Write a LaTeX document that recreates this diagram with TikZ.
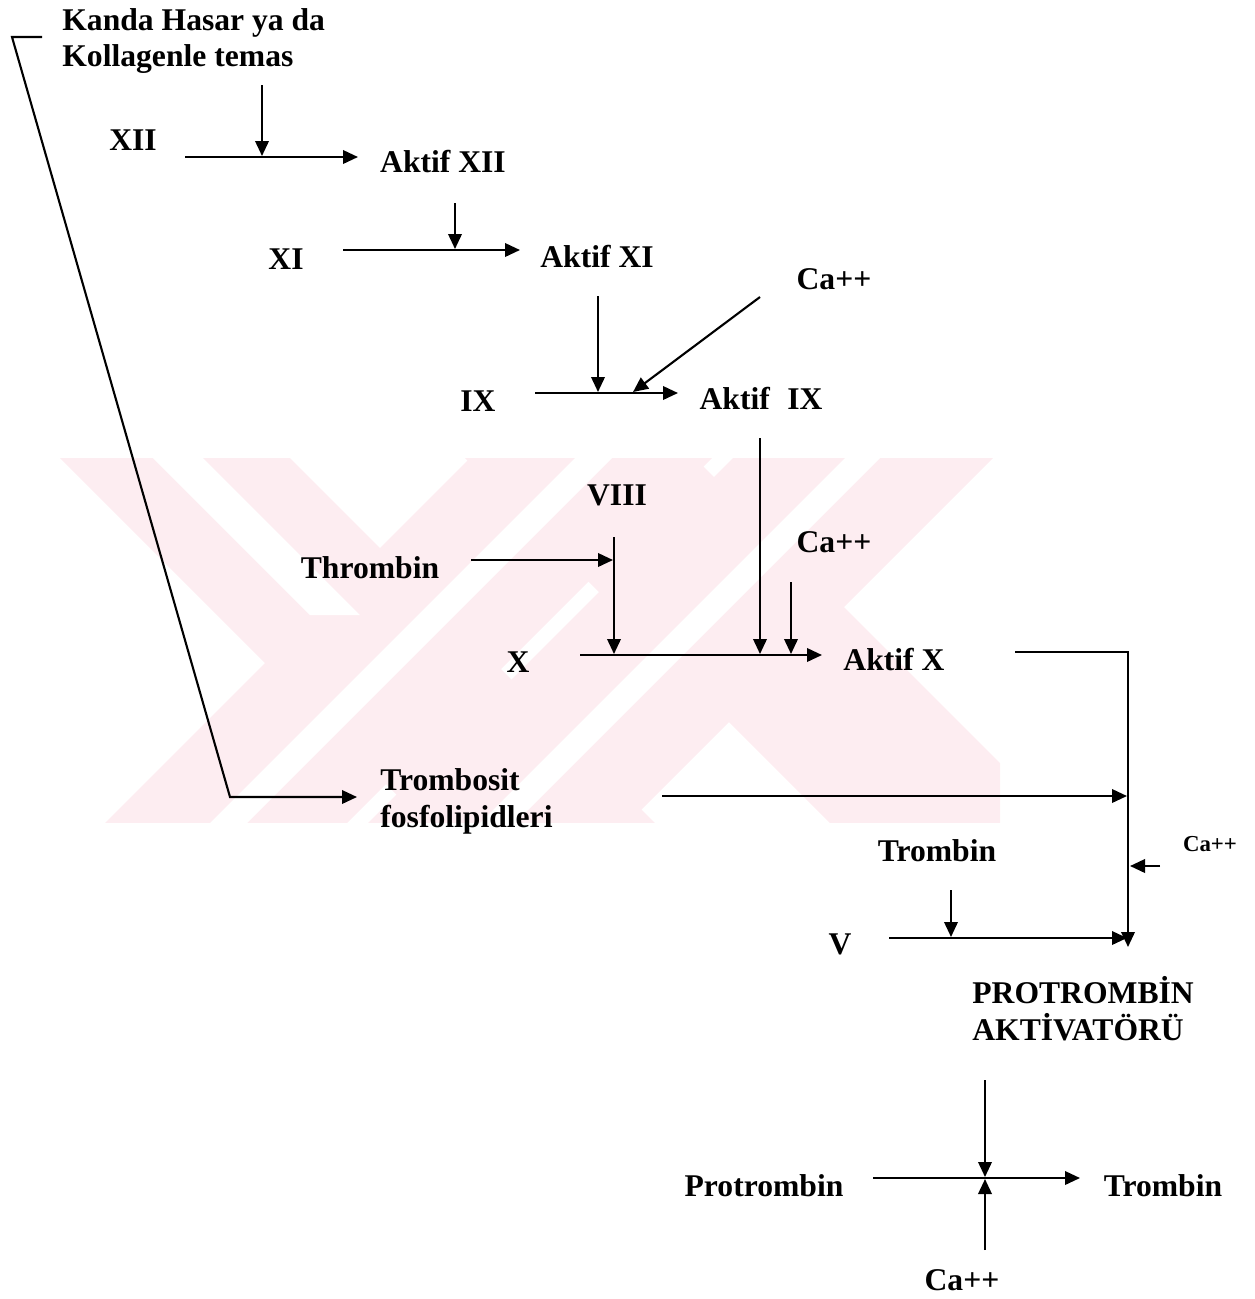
\documentclass[tikz,border=0pt]{standalone}
\usepackage{fontspec}
\setmainfont{Liberation Serif}
\usetikzlibrary{arrows.meta}
\usepackage{xcolor}
\definecolor{wmpink}{RGB}{253,237,241}
\tikzstyle{term} = [inner sep=0pt, font=\bfseries\fontsize{18}{21}\selectfont]
\tikzstyle{smallterm} = [inner sep=0pt, font=\bfseries\fontsize{13}{15}\selectfont]
\tikzstyle{line} = [draw, line width=1.2pt, -{Triangle[length=0.3cm,width=0.27cm]}]

\begin{document}
\begin{tikzpicture}[x=0.02cm, y=-0.02cm]
        \useasboundingbox (0,0) rectangle (1255,1299);

        % Watermark
        \begin{scope}
            \clip (60,458) rectangle (1000,822);
            \fill[wmpink] (2,400) -- (232,400) -- (732,900) -- (502,900) -- cycle;
            \fill[wmpink] (528,400) -- (770,400) -- (270,900) -- (28,900) -- cycle;
            \fill[wmpink] (407,400) -- (637,400) -- (1137,900) -- (907,900) -- cycle;
            \fill[wmpink] (791,400) -- (1051,400) -- (551,900) -- (291,900) -- cycle;
            \fill[white] (95,400) -- (145,400) -- (360,615) -- (310,615) -- cycle;
            \fill[white] (633,400) -- (670,400) -- (170,900) -- (133,900) -- cycle;
            \fill[white] (903,400) -- (938,400) -- (438,900) -- (403,900) -- cycle;
        \end{scope}

        % Nodes
        \node [term, anchor=west, align=left] (kanda) at (62,41) {Kanda Hasar ya da\\Kollagenle temas};
        \node [term] (f12) at (133,140) {XII};
        \node [term] (af12) at (443,162) {Aktif XII};
        \node [term] (f11) at (286,259) {XI};
        \node [term] (af11) at (597,257) {Aktif XI};
        \node [term] (ca1) at (834,279) {Ca++};
        \node [term] (f9) at (478,401) {IX};
        \node [term] (af9) at (761,399) {Aktif\hspace{0.55em}IX};
        \node [term] (f8) at (617,495) {VIII};
        \node [term] (thr) at (370,568) {Thrombin};
        \node [term] (ca2) at (834,542) {Ca++};
        \node [term] (f10) at (518,662) {X};
        \node [term] (af10) at (894,660) {Aktif X};
        \node [term, anchor=west, align=left] (tromb) at (380,801) {Trombosit\\fosfolipidleri};
        \node [term] (trm1) at (937,851) {Trombin};
        \node [smallterm] (ca3) at (1210,844) {Ca++};
        \node [term] (f5) at (840,944) {V};
        \node [term, anchor=west, align=left] (pact) at (972,1009) {PROTROMBİN\\AKTİVATÖRÜ};
        \node [term] (pro) at (764,1186) {Protrombin};
        \node [term] (trm2) at (1163,1186) {Trombin};
        \node [term] (ca4) at (962,1280) {Ca++};

        % Arrow ends
        \coordinate (brk0) at (42,37);
        \coordinate (brk1) at (12,37);
        \coordinate (brk2) at (230,797);
        \coordinate (brk3) at (357,797);
        \coordinate (k0) at (262,85);
        \coordinate (k1) at (262,156);
        \coordinate (a12s) at (185,157);
        \coordinate (a12e) at (358,157);
        \coordinate (d11s) at (455,203);
        \coordinate (d11e) at (455,249);
        \coordinate (a11s) at (343,250);
        \coordinate (a11e) at (520,250);
        \coordinate (d9s) at (598,296);
        \coordinate (d9e) at (598,392);
        \coordinate (c9s) at (760,297);
        \coordinate (c9e) at (633,392);
        \coordinate (a9s) at (535,393);
        \coordinate (a9e) at (678,393);
        \coordinate (d10s) at (760,438);
        \coordinate (d10e) at (760,654);
        \coordinate (v8s) at (614,537);
        \coordinate (v8e) at (614,654);
        \coordinate (ths) at (471,560);
        \coordinate (the) at (613,560);
        \coordinate (c10s) at (791,582);
        \coordinate (c10e) at (791,654);
        \coordinate (a10s) at (580,655);
        \coordinate (a10e) at (822,655);
        \coordinate (pas) at (1015,652);
        \coordinate (pac) at (1128,652);
        \coordinate (pae) at (1128,947);
        \coordinate (fos) at (662,796);
        \coordinate (foe) at (1127,796);
        \coordinate (cas) at (1160,866);
        \coordinate (cae) at (1130,866);
        \coordinate (t5s) at (951,890);
        \coordinate (t5e) at (951,937);
        \coordinate (v5s) at (889,938);
        \coordinate (v5e) at (1127,938);
        \coordinate (pts) at (985,1080);
        \coordinate (pte) at (985,1177);
        \coordinate (prs) at (873,1178);
        \coordinate (pre) at (1080,1178);
        \coordinate (cps) at (985,1250);
        \coordinate (cpe) at (985,1179);

        % Lines
        \path [line] (brk0) -- (brk1) -- (brk2) -- (brk3);
        \path [line] (k0) -- (k1);
        \path [line] (a12s) -- (a12e);
        \path [line] (d11s) -- (d11e);
        \path [line] (a11s) -- (a11e);
        \path [line] (d9s) -- (d9e);
        \path [line] (c9s) -- (c9e);
        \path [line] (a9s) -- (a9e);
        \path [line] (d10s) -- (d10e);
        \path [line] (v8s) -- (v8e);
        \path [line] (ths) -- (the);
        \path [line] (c10s) -- (c10e);
        \path [line] (a10s) -- (a10e);
        \path [line] (pas) -- (pac) -- (pae);
        \path [line] (fos) -- (foe);
        \path [line] (cas) -- (cae);
        \path [line] (t5s) -- (t5e);
        \path [line] (v5s) -- (v5e);
        \path [line] (pts) -- (pte);
        \path [line] (prs) -- (pre);
        \path [line] (cps) -- (cpe);
    \end{tikzpicture}
\end{document}
